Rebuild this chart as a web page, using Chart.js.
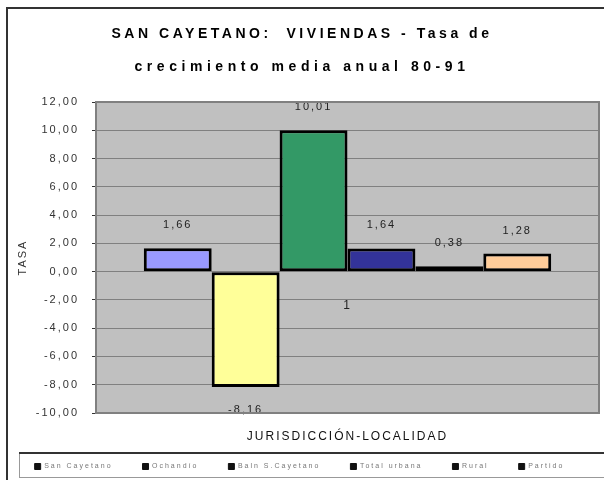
<!DOCTYPE html>
<html>
<head>
<meta charset="utf-8">
<script src="https://cdn.jsdelivr.net/npm/chart.js@4.4.0/dist/chart.umd.min.js"></script>
<style>
  html, body { margin: 0; padding: 0; background: #fff; }
  canvas { display: block; }
</style>
</head>
<body>
<canvas id="mycanvas" width="604" height="480"></canvas>
<script>
// datos
var titulo = ['SAN CAYETANO:  VIVIENDAS - Tasa de', 'crecimiento media anual 80-91'];
var categorias = ['1'];
var localidades = ['San Cayetano', 'Ochandío', 'Baln S.Cayetano', 'Total urbana', 'Rural', 'Partido'];
var tasas = [1.66, -8.16, 10.01, 1.64, 0.38, 1.28];
var colores = ['#9999FF', '#FFFF99', '#339966', '#333399', '#FFFFFF', '#FFCC99'];
var yMin = -10, yMax = 12, yPaso = 2;

var FONT = "'Liberation Sans', Arial, sans-serif";

function coma(v){ return v.toFixed(2).replace('.', ','); }

var datasets = [];
for (var i in localidades) {
	datasets.push({
		label: localidades[i],
		data: [tasas[i]],
		backgroundColor: colores[i],
		borderColor: '#000',
		borderWidth: 3,
		borderSkipped: false,
		barPercentage: 1,
		categoryPercentage: 0.81
	});
}

var extras = {
	id: 'extras',
	beforeLayout: function(chart){
		chart.ctx.letterSpacing = '2px';
	},
	beforeDraw: function(chart){
		var ctx = chart.ctx, a = chart.chartArea;
		ctx.save();
		ctx.fillStyle = '#fff';
		ctx.fillRect(0, 0, chart.width, chart.height);
		// marco exterior
		ctx.strokeStyle = '#333';
		ctx.lineWidth = 2;
		ctx.beginPath();
		ctx.moveTo(7, 480); ctx.lineTo(7, 8); ctx.lineTo(604, 8);
		ctx.stroke();
		// titulo
		ctx.fillStyle = '#000';
		ctx.font = 'bold 14px ' + FONT;
		ctx.textAlign = 'left';
		ctx.textBaseline = 'middle';
		var anchos = [381, 335], ys = [34, 67];
		titulo.forEach(function(t, k){
			ctx.letterSpacing = '0px';
			var w = ctx.measureText(t).width;
			var sp = (anchos[k] - w) / t.length;
			ctx.letterSpacing = sp + 'px';
			ctx.fillText(t, 302 - anchos[k] / 2, ys[k]);
		});
		// fondo del area
		ctx.fillStyle = '#C0C0C0';
		ctx.fillRect(a.left, a.top, a.right - a.left, a.bottom - a.top);
		ctx.restore();
		ctx.letterSpacing = '2px';
	},
	afterDatasetsDraw: function(chart){
		var ctx = chart.ctx;
		ctx.save();
		ctx.letterSpacing = '2px';
		ctx.font = '11px ' + FONT;
		ctx.fillStyle = '#222';
		ctx.textAlign = 'center';
		ctx.textBaseline = 'middle';
		chart.data.datasets.forEach(function(ds, i){
			var bar = chart.getDatasetMeta(i).data[0];
			var v = ds.data[0];
			ctx.fillText(coma(v), bar.x, v >= 0 ? bar.y - 23 : bar.y + 23);
		});
		// etiqueta de categoria
		ctx.font = '12px ' + FONT;
		ctx.fillText(categorias[0], chart.scales.x.getPixelForValue(0), chart.scales.y.getPixelForValue(0) + 34);
		ctx.restore();
	},
	afterDraw: function(chart){
		var ctx = chart.ctx, a = chart.chartArea;
		ctx.save();
		ctx.strokeStyle = '#808080';
		ctx.lineWidth = 2;
		ctx.strokeRect(a.left, a.top, a.right - a.left, a.bottom - a.top);
		// caja de la leyenda
		ctx.strokeStyle = '#999';
		ctx.lineWidth = 1;
		ctx.strokeRect(19.5, 453.5, 600, 24);
		ctx.strokeStyle = '#333';
		ctx.lineWidth = 2;
		ctx.beginPath(); ctx.moveTo(19, 453); ctx.lineTo(604, 453); ctx.stroke();
		ctx.restore();
	}
};

var ctx = document.getElementById('mycanvas');
var grafico = new Chart(ctx, {
	type: 'bar',
	data: { labels: categorias, datasets: datasets },
	options: {
		responsive: false,
		animation: false,
		layout: { padding: { top: 102, right: 5, bottom: 0, left: 0 } },
		plugins: {
			title: { display: false },
			tooltip: { enabled: false },
			legend: {
				position: 'bottom',
				labels: {
					boxWidth: 6,
					boxHeight: 6,
					padding: 30,
					color: '#777',
					font: { family: FONT, size: 7 },
					generateLabels: function(chart){
						var items = Chart.defaults.plugins.legend.labels.generateLabels(chart);
						items.forEach(function(it){ it.fillStyle = '#111'; it.strokeStyle = '#111'; it.lineWidth = 1; });
						return items;
					}
				}
			}
		},
		scales: {
			x: {
				ticks: { display: false },
				grid: { display: false },
				border: { display: false },
				title: {
					display: true,
					text: 'JURISDICCIÓN-LOCALIDAD',
					color: '#111',
					font: { family: FONT, size: 12 },
					padding: { top: 0, bottom: -11 }
				},
				afterFit: function(scale){ scale.height = 20; }
			},
			y: {
				min: yMin,
				max: yMax,
				ticks: {
					stepSize: yPaso,
					color: '#333',
					padding: 13,
					font: { family: FONT, size: 11 },
					callback: function(v){ return coma(v); }
				},
				grid: { color: '#808080', tickColor: '#333', tickLength: 4 },
				border: { display: false },
				title: {
					display: true,
					text: 'TASA',
					color: '#333',
					font: { family: FONT, size: 11 },
					padding: { top: 16, bottom: 0 }
				},
				afterFit: function(scale){ scale.width = 96; }
			}
		}
	},
	plugins: [extras]
});
</script>
</body>
</html>
